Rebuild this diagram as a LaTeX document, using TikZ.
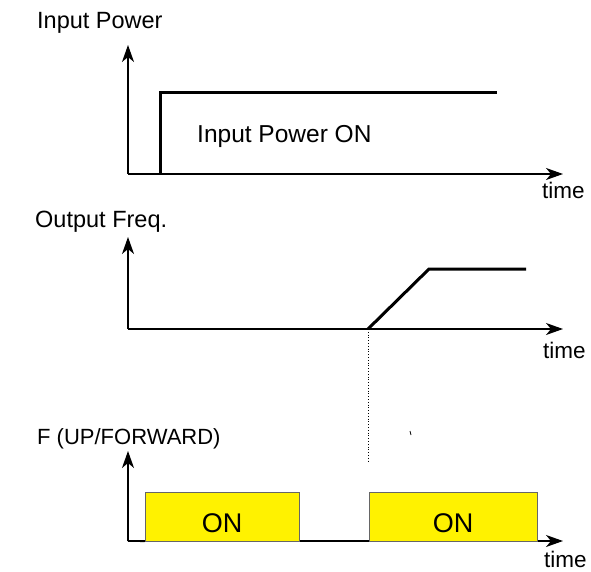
\documentclass[tikz,border=0pt]{standalone}
\usepackage{fontspec}
\setmainfont{Liberation Sans}
\usetikzlibrary{arrows.meta}
\begin{document}
\begin{tikzpicture}[x=1pt,y=-1pt,
  lbl/.style={anchor=base west,inner sep=0pt,font=\fontsize{23.5}{25}\selectfont},
  tlbl/.style={anchor=base west,inner sep=0pt,font=\fontsize{22.5}{24}\selectfont},
  axis/.style={line width=1.4pt,-{Stealth[length=17pt,width=12pt,inset=5pt]}},
  sig/.style={line width=3pt},
  onbox/.style={draw=black!60,line width=0.8pt,fill=yellow,inner sep=0pt},
  ontext/.style={anchor=base,inner sep=0pt,font=\fontsize{27}{29}\selectfont}]
\useasboundingbox (0,0) rectangle (591,572);
% panel 1
\node[lbl] (l1) at (37,29) {Input Power};
\coordinate (o1) at (128,174);
\coordinate (y1) at (128,45);
\coordinate (x1) at (563,174);
\draw[axis] (o1) -- (y1);
\draw[axis] (o1) -- (x1);
\coordinate (s1a) at (160,174);
\coordinate (s1b) at (160,93);
\coordinate (s1c) at (497,93);
\draw[sig,line join=miter] (s1a) -- (s1b) -- (s1c);
\node[lbl,font=\fontsize{24.5}{26}\selectfont] (on1) at (197,143) {Input Power ON};
\node[tlbl] (t1) at (542,198) {time};
% panel 2
\node[lbl] (l2) at (35,227) {Output Freq.};
\coordinate (o2) at (128,329);
\coordinate (y2) at (128,237);
\coordinate (x2) at (563,329);
\draw[axis] (o2) -- (y2);
\draw[axis] (o2) -- (x2);
\coordinate (r0) at (368,329);
\coordinate (r1) at (429,269);
\coordinate (r2) at (526,269);
\draw[sig,line join=miter] (r0) -- (r1) -- (r2);
\coordinate (d1) at (368,463);
\draw[line width=0.8pt,dotted] (r0) -- (d1);
\node[tlbl] (t2) at (543,358) {time};
% panel 3
\node[lbl,font=\fontsize{22}{24}\selectfont] (l3) at (37,444) {F (UP/FORWARD)};
\coordinate (o3) at (128,541);
\coordinate (y3) at (128,451);
\coordinate (x3) at (563,541);
\draw[axis] (o3) -- (y3);
\draw[axis] (o3) -- (x3);
\node[onbox,minimum width=154pt,minimum height=49pt] (b1) at (222,516.5) {};
\node[onbox,minimum width=168pt,minimum height=49pt] (b2) at (453,516.5) {};
\node[ontext] (n1) at (222,532) {ON};
\node[ontext] (n2) at (453,532) {ON};
\draw[line width=1.4pt] (o3) -- (b1.south west);
\node[tlbl] (t3) at (544,567) {time};
% stray tick
\coordinate (k1) at (410,431);
\coordinate (k2) at (411,435);
\draw[line width=0.8pt] (k1) -- (k2);
\end{tikzpicture}
\end{document}
